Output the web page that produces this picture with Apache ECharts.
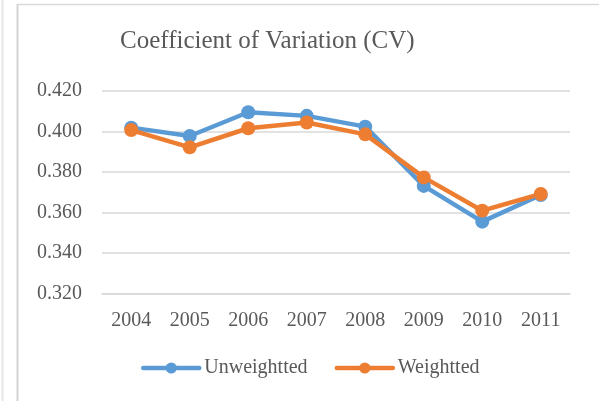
<!DOCTYPE html>
<html>
<head>
<meta charset="utf-8">
<script src="https://cdn.jsdelivr.net/npm/echarts@6/dist/echarts.min.js"></script>
<style>
  html, body { margin: 0; padding: 0; background: #fff; }
  #chart { width: 599px; height: 401px; }
</style>
</head>
<body>
<div id="chart"></div>
<script>
// Chart data
const years = ["2004", "2005", "2006", "2007", "2008", "2009", "2010", "2011"];
const unweighted = [0.4018, 0.3977, 0.4094, 0.4076, 0.4023, 0.3731, 0.3555, 0.3686];
const weighted = [0.4006, 0.3921, 0.4015, 0.4043, 0.3985, 0.3773, 0.3609, 0.3691];

const textColor = "#595959";
const gridColor = "#d9d9d9";
const font = "'Liberation Serif', 'Times New Roman', serif";

const chart = echarts.init(document.getElementById("chart"));

const option = {
  backgroundColor: "#fff",
  animation: false,
  title: {
    text: "Coefficient of Variation (CV)",
    left: 120,
    top: 29,
    padding: 0,
    textStyle: {
      fontFamily: font,
      fontSize: 25,
      fontWeight: "normal",
      color: textColor,
    },
  },
  legend: {
    left: 141,
    top: 358,
    padding: 0,
    itemWidth: 56,
    itemHeight: 14,
    itemGap: 27,
    lineStyle: { width: 4.5, cap: "round" },
    textStyle: { fontFamily: font, fontSize: 20, color: textColor },
    data: ["Unweightted", "Weightted"],
  },
  grid: {
    left: 102,
    right: 29,
    top: 90.7,
    bottom: 107.3,
    outerBoundsMode: "none",
  },
  xAxis: {
    type: "category",
    data: years,
    boundaryGap: true,
    axisLine: { show: true, lineStyle: { color: gridColor, width: 1.5 } },
    axisTick: { show: false },
    axisLabel: { fontFamily: font, fontSize: 20, color: textColor, margin: 17 },
  },
  yAxis: {
    type: "value",
    min: 0.32,
    max: 0.42,
    interval: 0.02,
    axisLine: { show: false },
    axisTick: { show: false },
    axisLabel: {
      fontFamily: font,
      fontSize: 20,
      color: textColor,
      margin: 20,
      formatter: (v) => v.toFixed(3),
    },
    splitLine: { lineStyle: { color: gridColor, width: 1.5 } },
  },
  series: [
    {
      name: "Unweightted",
      type: "line",
      data: unweighted,
      symbol: "circle",
      symbolSize: 14,
      lineStyle: { width: 4.5, color: "#5b9bd5" },
      itemStyle: { color: "#5b9bd5" },
    },
    {
      name: "Weightted",
      type: "line",
      data: weighted,
      symbol: "circle",
      symbolSize: 14,
      lineStyle: { width: 4.5, color: "#ed7d31" },
      itemStyle: { color: "#ed7d31" },
    },
  ],
  // Frame lines around the chart area
  graphic: [
    {
      type: "line",
      shape: { x1: 2.5, y1: 0, x2: 2.5, y2: 401 },
      style: { stroke: "#e6e6e6", lineWidth: 2 },
    },
    {
      type: "line",
      shape: { x1: 17.5, y1: 4, x2: 17.5, y2: 401 },
      style: { stroke: "#d4d4d4", lineWidth: 2 },
    },
    {
      type: "line",
      shape: { x1: 17, y1: 4.5, x2: 599, y2: 4.5 },
      style: { stroke: "#d9d9d9", lineWidth: 1.5 },
    },
  ],
};

chart.setOption(option);
window.addEventListener("resize", () => chart.resize());
</script>
</body>
</html>
